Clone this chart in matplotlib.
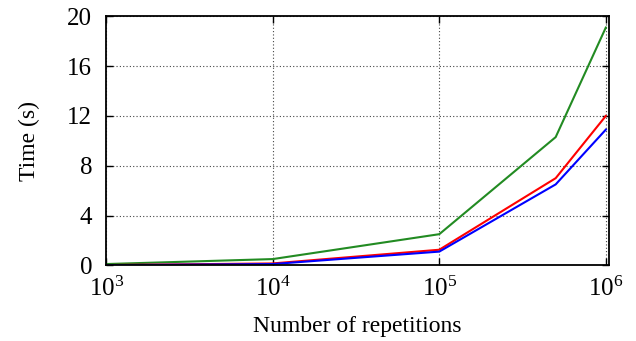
import numpy as np
import matplotlib
matplotlib.use("Agg")
import matplotlib.pyplot as plt

# repetitions and timings
repetitions = [1e3, 1e4, 1e5, 5e5, 1e6]
time_green = [0.1, 0.5, 2.5, 10.3, 19.1]
time_red = [0.02, 0.15, 1.25, 7.0, 12.0]
time_blue = [0.01, 0.1, 1.1, 6.5, 10.9]

y_ticks = [0, 4, 8, 12, 16, 20]

plt.rcParams["font.family"] = ["Liberation Serif", "DejaVu Serif"]
plt.rcParams["mathtext.fontset"] = "custom"
plt.rcParams["mathtext.rm"] = "Liberation Serif"
plt.rcParams["mathtext.it"] = "Liberation Serif:italic"

fig, ax = plt.subplots(figsize=(6.36, 3.41), dpi=100)
fig.subplots_adjust(left=0.167, right=0.957, top=0.952, bottom=0.222)

ax.plot(repetitions, time_green, color="#228b22", lw=1.5)
ax.plot(repetitions, time_red, color="red", lw=1.5)
ax.plot(repetitions, time_blue, color="blue", lw=1.5)

ax.set_xscale("log")
ax.set_xlim(1e3, 1.04e6)
ax.set_ylim(0, 20)
ax.set_xticks([1e3, 1e4, 1e5, 1e6])
ax.set_xticklabels([r"$\mathrm{10^{3}}$", r"$\mathrm{10^{4}}$",
                    r"$\mathrm{10^{5}}$", r"$\mathrm{10^{6}}$"])
ax.minorticks_off()
ax.set_yticks(y_ticks)

ax.grid(True, linestyle=(0, (1, 2)), color="#444444", lw=0.8)
ax.tick_params(direction="in", top=True, right=True, length=5, width=1,
               labelsize=18)
ax.tick_params(axis="y", pad=10)
ax.tick_params(axis="x", pad=8)
for sp in ax.spines.values():
    sp.set_linewidth(1.3)

ax.set_xlabel("Number of repetitions", fontsize=17, labelpad=11)
ax.set_ylabel("Time (s)", fontsize=17, labelpad=20)

fig.savefig("out.png", dpi=100)
